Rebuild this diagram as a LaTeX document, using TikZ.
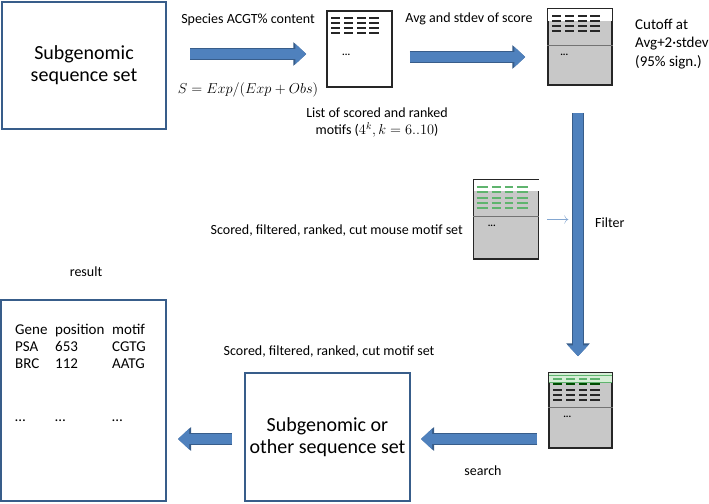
\documentclass[tikz,border=0pt]{standalone}
\usepackage{fontspec}
\setmainfont{Carlito}
\usetikzlibrary{arrows.meta, positioning}
\definecolor{flowblue}{RGB}{79,129,189}
\definecolor{flowedge}{RGB}{56,93,138}
\definecolor{docgray}{RGB}{200,200,200}
\definecolor{motifgreen}{RGB}{95,180,110}
\definecolor{bandgreen}{RGB}{214,238,214}

\begin{document}
\begin{tikzpicture}[
    % GLOBAL CFG
    x=1pt, y=-1pt,
    font=\fontsize{14}{15}\selectfont,
    % Styles
    bigbox/.style={% For the sequence sets and the result
        rectangle,
        draw=flowedge,
        line width=2pt,
        inner sep=0pt,
        align=center,
        font=\fontsize{20}{22}\selectfont,
        },
    doc/.style={% For the motif lists
        rectangle,
        draw=black!85,
        line width=1.5pt,
        inner sep=0pt,
        minimum width=65pt,
        minimum height=76pt,
        },
    mylabel/.style={% For the captions
        inner sep=0pt,
        align=center,
        },
    motifline/.style={% Dashes inside the lists
        line width=2pt,
        black!85,
        },
    cutline/.style={% Divider inside the lists
        line width=1pt,
        black!55,
        },
    flow/.style={% Big block arrows
        line width=10pt,
        draw=flowblue,
        -{Triangle[width=20pt,length=11pt]},
        preaction={draw=flowedge, line width=12pt, -{Triangle[width=23pt,length=13pt]}},
        },
    ]

\useasboundingbox (0,0) rectangle (709,503);

% Draw the sequence sets and the result
    \node [bigbox, minimum width=164pt, minimum height=127pt] (sub) at (84,65.5) {Subgenomic\\sequence set};
    \node [bigbox, minimum width=165pt, minimum height=128pt] (other) at (327.5,437) {Subgenomic or\\other sequence set};
    \node [bigbox, minimum width=165pt, minimum height=201pt] (result) at (83.5,400.5) {};

% Draw the lists named list, cut, mouse, hits
    \node [doc, fill=white] (list) at (359.5,49) {};
    \node [doc, fill=docgray, minimum width=64pt] (cut) at (580,47) {};
    \node [doc, fill=docgray, minimum height=79pt] (mouse) at (506,219.5) {};
    \node [doc, fill=docgray, minimum width=63pt, minimum height=75pt] (hits) at (580.5,410.5) {};

    % white and green bands on top
    \fill [white] ([shift={(0.75,0.75)}]cut.north west) rectangle ([shift={(-0.75,13)}]cut.north east);
    \fill [white] ([shift={(0.75,0.75)}]mouse.north west) rectangle ([shift={(-0.75,12)}]mouse.north east);
    \fill [bandgreen] ([shift={(0.75,1)}]hits.north west) rectangle ([shift={(-0.75,10)}]hits.north east);
    \draw [motifgreen, thin] ([shift={(0.75,3)}]hits.north west) -- ([shift={(-0.75,3)}]hits.north east);
    \draw [motifgreen, thin] ([shift={(0.75,10)}]hits.north west) -- ([shift={(-0.75,10)}]hits.north east);

    % dashes
    \foreach \r in {8,13,18,23} {
        \foreach \a/\b in {5/14, 18/27, 31/40, 43/53} {
            \draw [motifline] ([shift={(\a,\r)}]list.north west) -- ([shift={(\b,\r)}]list.north west);
            \draw [motifline] ([shift={(\a,\r)}]cut.north west) -- ([shift={(\b,\r)}]cut.north west);
        }
    }
    \foreach \r in {8,13.2,18.4,23.6,28.8} {
        \foreach \a/\b in {4/15, 19/28, 32/40, 44/55} {
            \draw [motifline, motifgreen] ([shift={(\a,\r)}]mouse.north west) -- ([shift={(\b,\r)}]mouse.north west);
        }
    }
    \foreach \r/\c in {7/motifgreen, 12/black!70!green, 18/black!85, 23/black!85, 28/black!85} {
        \foreach \a/\b in {5/14, 18/27, 31/39, 42/52} {
            \draw [motifline, \c] ([shift={(\a,\r)}]hits.north west) -- ([shift={(\b,\r)}]hits.north west);
        }
    }

    % dividers
    \draw [cutline] ([shift={(0,37)}]cut.north west) -- ([shift={(0,37)}]cut.north east);
    \draw [cutline] ([shift={(0,37)}]mouse.north west) -- ([shift={(0,37)}]mouse.north east);
    \draw [cutline] ([shift={(0,35)}]hits.north west) -- ([shift={(0,35)}]hits.north east);

    % dots
    \node [font=\fontsize{10}{10}\selectfont\bfseries] (listdots) at ([shift={(20,45)}]list.north west) {...};
    \node [font=\fontsize{10}{10}\selectfont\bfseries] (cutdots) at ([shift={(17,47)}]cut.north west) {...};
    \node [font=\fontsize{10}{10}\selectfont\bfseries] (mousedots) at ([shift={(19,47)}]mouse.north west) {...};
    \node [font=\fontsize{10}{10}\selectfont\bfseries] (hitsdots) at ([shift={(19,45)}]hits.north west) {...};

% Captions
    \node [mylabel] (species) at (248,20) {Species ACGT\% content};
    \node [mylabel, font=\fontsize{14}{16}\selectfont] (score) at (248,90) {$S = Exp/(Exp + Obs)$};
    \node [mylabel, font=\fontsize{14}{17}\selectfont] (listcap) at (377,123) {List of scored and ranked\\motifs ($4^k, k = 6..10$)};
    \node [mylabel] (avgcap) at (469,19) {Avg and stdev of score};
    \node [mylabel, align=left, font=\fontsize{15}{18.5}\selectfont, anchor=west] (cutcap) at (635,44) {Cutoff at\\Avg+2·stdev\\(95\% sign.)};
    \node [mylabel, anchor=east] (mousecap) at (463,231) {Scored, filtered, ranked, cut mouse motif set};
    \node [mylabel, anchor=west] (filtercap) at (595,223) {Filter};
    \node [mylabel] (resultcap) at (86,272) {result};
    \node [mylabel] (motifcap) at (329,352) {Scored, filtered, ranked, cut motif set};
    \node [mylabel] (searchcap) at (483,471) {search};

    % Result table
    \node [mylabel, anchor=north west, align=left, font=\fontsize{15}{17}\selectfont] (table) at (15,322) {%
        \begin{tabular}{@{}p{40pt}@{}p{57pt}@{}l@{}}
        Gene & position & motif\\
        PSA & 653 & CGTG\\
        BRC & 112 & AATG\\[36pt]
        … & … & …
        \end{tabular}};

% Connecting all
    \draw [flow] ([shift={(23,-11.5)}]sub.east) -- ([shift={(-20,5)}]list.west);
    \draw [flow] ([shift={(17,8)}]list.east) -- ([shift={(-22,10)}]cut.west);
    \draw [flow] ([shift={(-2,27)}]cut.south) -- ([shift={(-2.5,-16)}]hits.north);
    \draw [flow] ([shift={(-11,28.5)}]hits.west) -- ([shift={(10,2)}]other.east);
    \draw [flow] ([shift={(-12,2)}]other.west) -- ([shift={(11,38.5)}]result.east);

    % mouse set into the filter
    \draw [flowblue!70, thin, -{To[length=4pt]}] ([shift={(8,0)}]mouse.east) -- ([shift={(29,0)}]mouse.east);

\end{tikzpicture}
\end{document}
